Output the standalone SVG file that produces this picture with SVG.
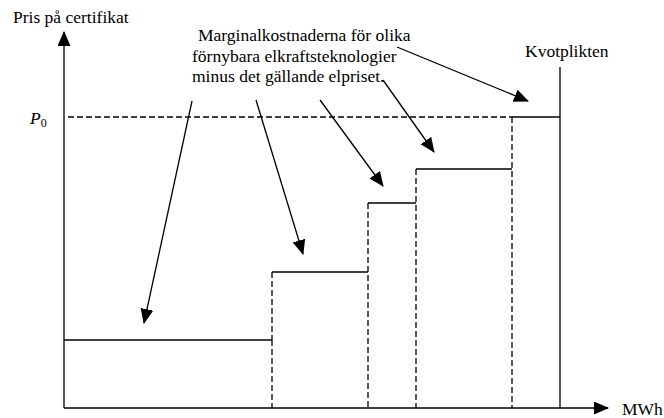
<svg xmlns="http://www.w3.org/2000/svg" width="664" height="418" viewBox="0 0 664 418">
  <style>
    .t { font-family: "Liberation Serif", "DejaVu Serif", serif; font-size: 17.5px; fill: #000; }
    .s { stroke: #000; stroke-width: 1.3; fill: none; }
    .d { stroke: #000; stroke-width: 1.3; fill: none; stroke-dasharray: 6 3; }
  </style>
  <defs>
    <marker id="ah" markerUnits="userSpaceOnUse" markerWidth="16" markerHeight="14" refX="14" refY="6.5" orient="auto">
      <path d="M0,0 L15,6.5 L0,13 Z" fill="#000"/>
    </marker>
  </defs>
  <rect width="664" height="418" fill="#fff"/>

  <g id="axes">
    <line class="s" x1="64" y1="408" x2="64" y2="32" marker-end="url(#ah)"/>
    <line class="s" x1="64" y1="408" x2="608" y2="408" marker-end="url(#ah)"/>
    <text class="t" x="13" y="23" font-family="Liberation Serif">Pris på certifikat</text>
    <text class="t" x="622" y="415">MWh</text>
    <text class="t" x="30" y="124" font-style="italic">P<tspan font-style="normal" font-size="12" dy="3">0</tspan></text>
  </g>

  <g id="p0-line">
    <line class="d" x1="68" y1="117" x2="512" y2="117"/>
  </g>

  <g id="kvotplikten">
    <line class="s" x1="560" y1="67" x2="560" y2="408"/>
    <text class="t" x="525" y="57">Kvotplikten</text>
  </g>

  <g id="steps">
    <line class="s" x1="64" y1="340" x2="272" y2="340"/>
    <line class="d" x1="272" y1="340" x2="272" y2="408"/>
    <line class="d" x1="272" y1="272" x2="272" y2="340"/>
    <line class="s" x1="272" y1="272" x2="368" y2="272"/>
    <line class="d" x1="368" y1="203" x2="368" y2="408"/>
    <line class="s" x1="368" y1="203" x2="416" y2="203"/>
    <line class="d" x1="416" y1="169" x2="416" y2="408"/>
    <line class="s" x1="416" y1="169" x2="512" y2="169"/>
    <line class="d" x1="512" y1="117" x2="512" y2="408"/>
    <line class="s" x1="512" y1="117" x2="560" y2="117"/>
  </g>

  <g id="label">
    <text class="t" x="198" y="41">Marginalkostnaderna för olika</text>
    <text class="t" x="192" y="61.5">förnybara elkraftsteknologier</text>
    <text class="t" x="192" y="82">minus det gällande elpriset.</text>
  </g>

  <g id="connectors">
    <line class="s" x1="192" y1="101" x2="144" y2="323" marker-end="url(#ah)"/>
    <line class="s" x1="256" y1="100" x2="303" y2="254" marker-end="url(#ah)"/>
    <line class="s" x1="320" y1="100" x2="383" y2="186" marker-end="url(#ah)"/>
    <line class="s" x1="383" y1="80" x2="434" y2="152" marker-end="url(#ah)"/>
    <line class="s" x1="397" y1="47" x2="528" y2="101" marker-end="url(#ah)"/>
  </g>
</svg>
